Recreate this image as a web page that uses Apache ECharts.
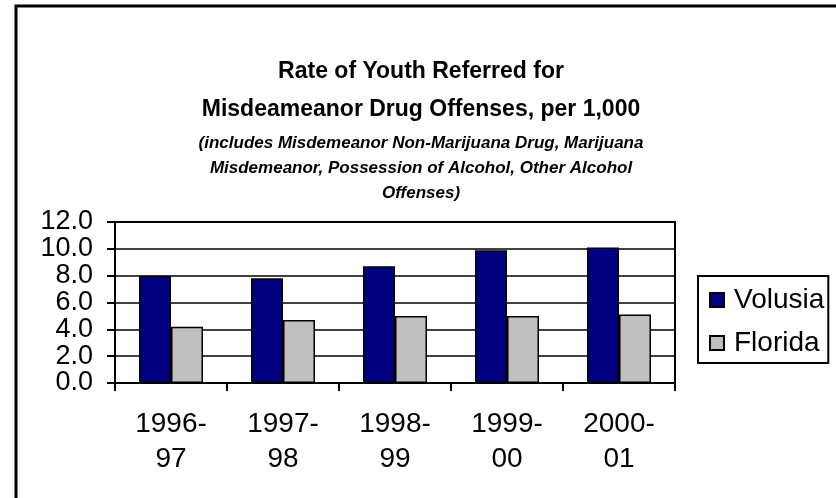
<!DOCTYPE html>
<html>
<head>
<meta charset="utf-8">
<script src="https://cdn.jsdelivr.net/npm/echarts@6/dist/echarts.min.js"></script>
<style>
html,body{margin:0;padding:0;background:#fff;}
#chart{width:836px;height:498px;}
</style>
</head>
<body>
<div id="chart"></div>
<script>
var categories = ['1996-\n97', '1997-\n98', '1998-\n99', '1999-\n00', '2000-\n01'];
var volusia = [8.0, 7.8, 8.7, 9.9, 10.1];
var florida = [4.2, 4.7, 5.0, 5.0, 5.1];
var seriesNames = ['Volusia', 'Florida'];
var titleText = 'Rate of Youth Referred for\nMisdeameanor Drug Offenses, per 1,000';
var subtitleText = '(includes Misdemeanor Non-Marijuana Drug, Marijuana\nMisdemeanor, Possession of Alcohol, Other Alcohol\nOffenses)';

var chart = echarts.init(document.getElementById('chart'), null, {renderer: 'canvas'});
var font = 'Arial, "Liberation Sans", Helvetica, sans-serif';
chart.setOption({
  backgroundColor: '#ffffff',
  animation: false,
  title: [{
    text: titleText,
    left: 421,
    textAlign: 'center',
    top: 53,
    padding: 0,
    textStyle: {fontFamily: font, fontSize: 23, fontWeight: 'bold', color: '#000', lineHeight: 38}
  }, {
    text: subtitleText,
    left: 421,
    textAlign: 'center',
    top: 131,
    padding: 0,
    textStyle: {fontFamily: font, fontSize: 17, fontWeight: 'bold', fontStyle: 'italic', color: '#000', lineHeight: 25}
  }],
  graphic: [{
    type: 'rect',
    shape: {x: 16, y: 6, width: 900, height: 600},
    style: {fill: 'none', stroke: '#000', lineWidth: 3},
    silent: true
  }],
  legend: {
    orient: 'vertical',
    left: 698,
    top: 276,
    data: seriesNames,
    icon: 'rect',
    itemWidth: 14,
    itemHeight: 14,
    itemGap: 13,
    padding: [9, 4, 5, 11],
    borderColor: '#000',
    borderWidth: 2,
    textStyle: {fontFamily: font, fontSize: 28, color: '#000', lineHeight: 30, padding: [0, 0, 0, 5]}
  },
  grid: {
    left: 115, right: 161, top: 222, bottom: 115,
    show: true, borderColor: '#000', borderWidth: 2, backgroundColor: 'transparent'
  },
  xAxis: {
    type: 'category',
    data: categories,
    axisLine: {lineStyle: {color: '#000', width: 2}},
    axisTick: {show: true, length: 8, lineStyle: {color: '#000', width: 2}},
    axisLabel: {color: '#000', fontFamily: font, fontSize: 28, lineHeight: 35, margin: 24}
  },
  yAxis: {
    type: 'value',
    min: 0, max: 12, interval: 2,
    axisLine: {show: true, lineStyle: {color: '#000', width: 2}},
    axisTick: {show: true, length: 8, lineStyle: {color: '#000', width: 2}},
    splitLine: {show: true, lineStyle: {color: '#000', width: 1.5}},
    axisLabel: {color: '#000', fontFamily: font, fontSize: 27, margin: 22,
      formatter: function (v) { return v.toFixed(1); }}
  },
  series: [{
    name: seriesNames[0],
    type: 'bar',
    data: volusia,
    barWidth: 32,
    barGap: '0%',
    itemStyle: {color: '#000080', borderColor: '#000', borderWidth: 1.5}
  }, {
    name: seriesNames[1],
    type: 'bar',
    data: florida,
    barWidth: 32,
    barGap: '0%',
    itemStyle: {color: '#c0c0c0', borderColor: '#000', borderWidth: 1.5}
  }]
});
</script>
</body>
</html>
